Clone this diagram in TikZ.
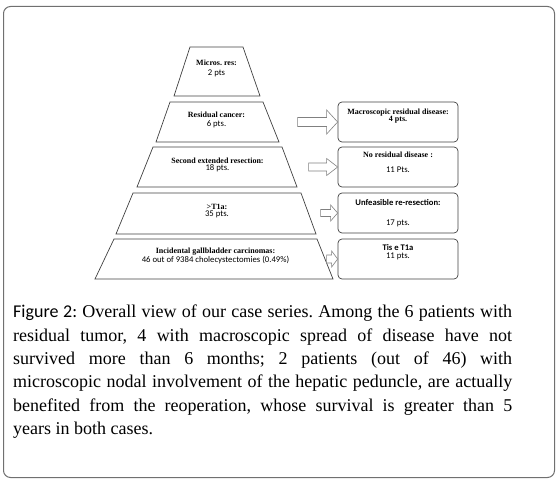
\documentclass[tikz,border=0pt]{standalone}
\usepackage{fontspec}
\setmainfont{Liberation Serif}
\newfontfamily\calibri{Carlito}
\usetikzlibrary{calc}
\definecolor{framegray}{HTML}{707070}
\definecolor{outline}{HTML}{404040}
\definecolor{arrowgray}{HTML}{808080}
% block arrow ending at #1: length, half shaft, half head, head length
\newcommand{\BlockArrow}[5]{%
  \draw[blockarrow] (#1)
    -- ($(#1)+(-#5,-#4)$) -- ($(#1)+(-#5,-#3)$)
    -- ($(#1)+(-#2,-#3)$) -- ($(#1)+(-#2,#3)$)
    -- ($(#1)+(-#5,#3)$) -- ($(#1)+(-#5,#4)$) -- cycle;
}
% pyramid layer: name, top y, bottom y, top left/right x, bottom left/right x
\newcommand{\Layer}[7]{%
  \draw[trap] (#4,#2) -- (#5,#2) -- (#7,#3) -- (#6,#3) -- cycle;
  \coordinate (#1) at ({(#4+#5)/2},#2);
}

\begin{document}
\begin{tikzpicture}[x=1pt,y=-1pt,
 trap/.style={draw=outline,line width=.7pt},
 outcome/.style={draw=outline,line width=.7pt,rounded corners=4pt,
   minimum width=120pt,minimum height=40pt,inner sep=0pt},
 blockarrow/.style={draw=arrowgray,fill=white,line width=.6pt},
 ttl/.style={inner sep=0pt,font=\fontsize{8}{9.6}\selectfont\bfseries\frenchspacing},
 cnt/.style={inner sep=0pt,font=\fontsize{8.7}{10}\selectfont\calibri},
 sansttl/.style={inner sep=0pt,font=\fontsize{8.6}{10}\selectfont\calibri\bfseries}]
\useasboundingbox (0,0) rectangle (557,481);
\draw[framegray,line width=1pt,rounded corners=7pt] (3.5,6.5) rectangle (554.5,477.5);

% pyramid
\Layer{t1}{47}{96}{190}{243}{174}{260}
\Layer{t2}{102}{142}{170}{263}{156}{279}
\Layer{t3}{147}{187}{153}{282}{137}{297}
\Layer{t4}{193}{234}{133}{301}{116}{316}
\Layer{t5}{239}{279}{114}{317}{95}{333}

\node[ttl] (t1a) at ($(t1)+(0,16)$) {Micros. res:};
\node[cnt] (t1b) at ($(t1)+(0,26)$) {2 pts};
\node[ttl] (t2a) at ($(t2)+(0,13)$) {Residual cancer:};
\node[cnt] (t2b) at ($(t2)+(0,22)$) {6 pts.};
\node[ttl] (t3a) at ($(t3)+(0,13.5)$) {Second extended resection:};
\node[cnt] (t3b) at ($(t3)+(0,21.5)$) {18 pts.};
\node[ttl] (t4a) at ($(t4)+(0,13.5)$) {>T1a:};
\node[cnt] (t4b) at ($(t4)+(0,21.5)$) {35 pts.};
\node[ttl] (t5a) at ($(t5)+(0,12.5)$) {Incidental gallbladder carcinomas:};
\node[cnt] (t5b) at ($(t5)+(0,21.5)$) {46 out of 9384 cholecystectomies (0.49\%)};

% outcomes
\node[outcome] (b1) at (398,122) {};
\node[outcome] (b2) at (398,167) {};
\node[outcome] (b3) at (398,213) {};
\node[outcome] (b4) at (398,259) {};

\node[ttl] (b1a) at ($(b1.north)+(0,10.5)$) {Macroscopic residual disease:};
\node[ttl] (b1b) at ($(b1.north)+(0,18)$) {4 pts.};
\node[ttl] (b2a) at ($(b2.north)+(0,8)$) {No residual disease :};
\node[cnt] (b2b) at ($(b2.north)+(0,23)$) {11 Pts.};
\node[sansttl] (b3a) at ($(b3.north)+(0,10)$) {Unfeasible re-resection:};
\node[cnt] (b3b) at ($(b3.north)+(0,31)$) {17 pts.};
\node[sansttl] (b4a) at ($(b4.north)+(0,8.5)$) {Tis e T1a};
\node[cnt] (b4b) at ($(b4.north)+(0,17.5)$) {11 pts.};

\BlockArrow{b1.west}{40}{4.5}{12}{11}
\BlockArrow{b2.west}{29}{4}{8.5}{11}
\BlockArrow{b3.west}{17}{3.5}{8}{7}
\BlockArrow{b4.west}{11}{4}{8}{6}

% caption
\node[anchor=north west,inner sep=0pt,text width=499pt,align=justify,
  font=\fontsize{18}{23.3}\selectfont\frenchspacing] (cap) at (13,305)
 {{\calibri Figure 2:} Overall view of our case series. Among the 6 patients with\linebreak
  residual tumor, 4 with macroscopic spread of disease have not\linebreak
  survived more than 6 months; 2 patients (out of 46) with\linebreak
  microscopic nodal involvement of the hepatic peduncle, are actually\linebreak
  benefited from the reoperation, whose survival is greater than 5\linebreak
  years in both cases.};
\end{tikzpicture}
\end{document}
